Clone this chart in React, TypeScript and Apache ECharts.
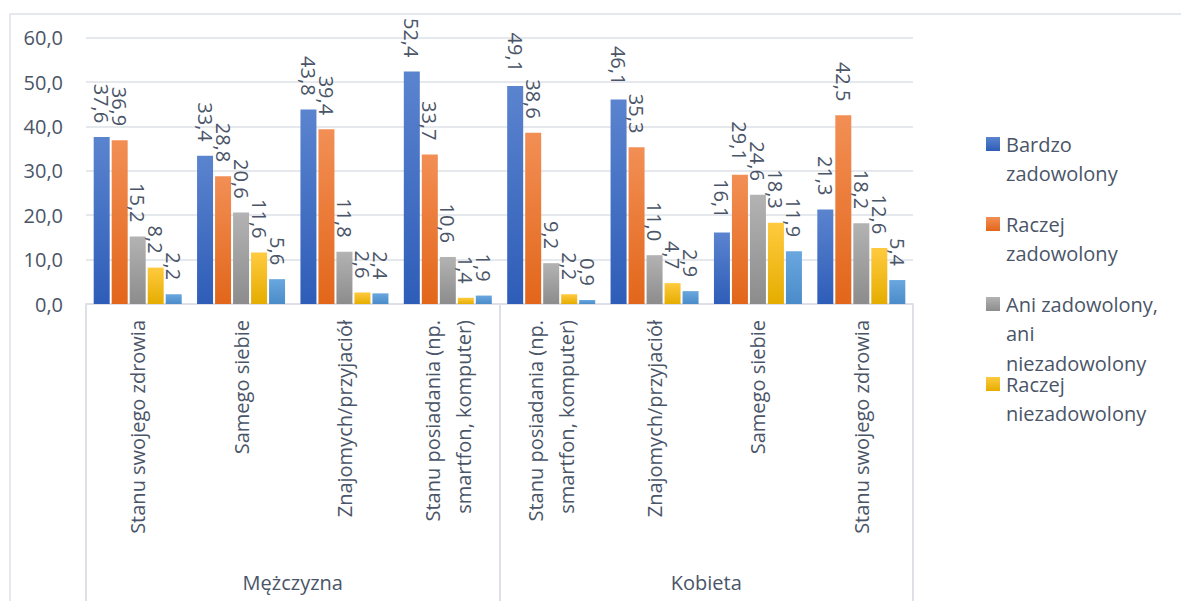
import React, { useEffect, useRef } from "react";
import * as echarts from "echarts";

const categories = [
  "Stanu swojego zdrowia",
  "Samego siebie",
  "Znajomych/przyjaciół",
  "Stanu posiadania (np.\nsmartfon, komputer)",
  "Stanu posiadania (np.\nsmartfon, komputer)",
  "Znajomych/przyjaciół",
  "Samego siebie",
  "Stanu swojego zdrowia",
];
const groups = ["Mężczyzna", "Kobieta"];

const seriesNames = [
  "Bardzo zadowolony",
  "Raczej zadowolony",
  "Ani zadowolony, ani niezadowolony",
  "Raczej niezadowolony",
  "Bardzo niezadowolony",
];
const legendLabels = [
  ["Bardzo", "zadowolony"],
  ["Raczej", "zadowolony"],
  ["Ani zadowolony,", "ani", "niezadowolony"],
  ["Raczej", "niezadowolony"],
];

const bardzoZadowolony = [37.6, 33.4, 43.8, 52.4, 49.1, 46.1, 16.1, 21.3];
const raczejZadowolony = [36.9, 28.8, 39.4, 33.7, 38.6, 35.3, 29.1, 42.5];
const aniAni = [15.2, 20.6, 11.8, 10.6, 9.2, 11.0, 24.6, 18.2];
const raczejNiezadowolony = [8.2, 11.6, 2.6, 1.4, 2.2, 4.7, 18.3, 12.6];
const bardzoNiezadowolony = [2.2, 5.6, 2.4, 1.9, 0.9, 2.9, 11.9, 5.4];

const yTicks = { min: 0, max: 60, interval: 10 };

const seriesData = [
  bardzoZadowolony,
  raczejZadowolony,
  aniAni,
  raczejNiezadowolony,
  bardzoNiezadowolony,
];

const gradients: [string, string][] = [
  ["#5b84cf", "#2e5db8"],
  ["#f28f55", "#e2661a"],
  ["#b3b3b3", "#8c8c8c"],
  ["#ffca3f", "#e5ad00"],
  ["#6aa7df", "#4a8bc9"],
];

const TEXT = "#4a5568";
const FONT = '"Open Sans", "DejaVu Sans", sans-serif';
const LINE = "#dde1e7";

function grad(c: [string, string]) {
  return new echarts.graphic.LinearGradient(0, 0, 0, 1, [
    { offset: 0, color: c[0] },
    { offset: 1, color: c[1] },
  ]);
}

const fmt = (v: number) => v.toFixed(1).replace(".", ",");

export default function App() {
  const ref = useRef<HTMLDivElement>(null);
  useEffect(() => {
    document.body.style.margin = "0";
    if (!ref.current) return;
    const chart = echarts.init(ref.current, null, { renderer: "svg" });

    const legendCenters = [144, 224, 304, 384];
    const lineStep = 29.5;
    const legendGraphics: any[] = [];
    legendLabels.forEach((lines, i) => {
      legendGraphics.push({
        type: "rect",
        shape: { x: 986, y: legendCenters[i] - 7, width: 14, height: 14 },
        style: { fill: grad(gradients[i]) },
      });
      lines.forEach((t, j) => {
        legendGraphics.push({
          type: "text",
          x: 1006,
          y: legendCenters[i] + j * lineStep,
          style: {
            text: t,
            fontSize: 20,
            fontFamily: FONT,
            lineHeight: 20,
            fill: TEXT,
            verticalAlign: "middle",
            align: "left",
          },
        });
      });
    });

    chart.setOption({
      animation: false,
      backgroundColor: "#ffffff",
      textStyle: { fontFamily: FONT },
      grid: { left: 86, right: 268, top: 37.7, bottom: 297, containLabel: false },
      xAxis: [
        {
          type: "category",
          data: categories,
          axisLine: { show: true, lineStyle: { color: LINE, width: 2 } },
          axisTick: { show: false },
          axisLabel: {
            interval: 0,
            rotate: 90,
            margin: 16,
            fontSize: 20,
            lineHeight: 31,
            color: TEXT,
            fontFamily: FONT,
          },
          splitLine: { show: false },
        },
        {
          type: "category",
          data: groups,
          position: "bottom",
          gridIndex: 0,
          axisLine: { show: false },
          axisTick: { show: true, length: 300, lineStyle: { color: LINE, width: 2 } },
          axisLabel: {
            interval: 0,
            margin: 268,
            fontSize: 20,
            color: TEXT,
            fontFamily: FONT,
          },
          splitLine: { show: false },
        },
      ],
      yAxis: {
        type: "value",
        min: yTicks.min,
        max: yTicks.max,
        interval: yTicks.interval,
        axisLine: { show: false },
        axisTick: { show: false },
        axisLabel: {
          margin: 23,
          fontSize: 20,
          color: TEXT,
          fontFamily: FONT,
          formatter: (v: number) => fmt(v),
        },
        splitLine: { show: true, lineStyle: { color: LINE, width: 1.6 } },
      },
      series: seriesNames.map((name, i) => ({
        name,
        type: "bar",
        xAxisIndex: 0,
        data: seriesData[i],
        barWidth: 16,
        barGap: "12.5%",
        itemStyle: { color: grad(gradients[i]) },
        label: {
          show: true,
          position: "top",
          distance: 14,
          rotate: -90,
          align: "right",
          verticalAlign: "middle",
          fontSize: 20,
          color: TEXT,
          fontFamily: FONT,
          formatter: (p: any) => fmt(p.value),
        },
      })),
      graphic: [
        {
          type: "rect",
          shape: { x: 10, y: 14, width: 1300, height: 800 },
          style: { fill: "none", stroke: LINE, lineWidth: 1.5 },
          silent: true,
        },
        ...legendGraphics,
      ],
    });
    return () => chart.dispose();
  }, []);
  return (
    <div
      ref={ref}
      style={{ width: 1181, height: 601, position: "absolute", left: 0, top: 0 }}
    />
  );
}
